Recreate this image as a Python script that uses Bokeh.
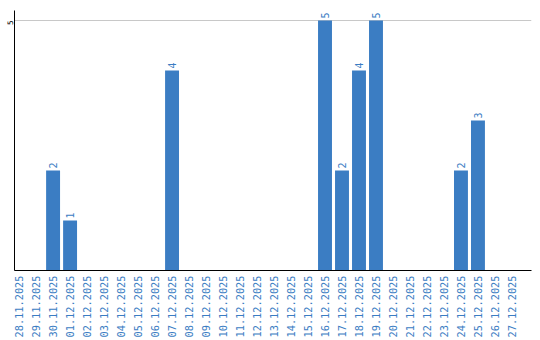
import math
from bokeh.plotting import figure
from bokeh.models import Range1d, FixedTicker, ColumnDataSource
from bokeh.embed import file_html
from bokeh.resources import INLINE
from bokeh.core.properties import value

dates = ["28.11.2025", "29.11.2025", "30.11.2025", "01.12.2025", "02.12.2025",
         "03.12.2025", "04.12.2025", "05.12.2025", "06.12.2025", "07.12.2025",
         "08.12.2025", "09.12.2025", "10.12.2025", "11.12.2025", "12.12.2025",
         "13.12.2025", "14.12.2025", "15.12.2025", "16.12.2025", "17.12.2025",
         "18.12.2025", "19.12.2025", "20.12.2025", "21.12.2025", "22.12.2025",
         "23.12.2025", "24.12.2025", "25.12.2025", "26.12.2025", "27.12.2025"]
counts = [0, 0, 2, 1, 0, 0, 0, 0, 0, 4,
          0, 0, 0, 0, 0, 0, 0, 0, 5, 2,
          4, 5, 0, 0, 0, 0, 2, 3, 0, 0]
y_ticks = [5]

BLUE = "#3b7dc3"
FONT = "DejaVu Sans Mono"

xs = list(range(len(dates)))
src = ColumnDataSource(dict(x=xs, top=counts))
nz = [i for i, c in enumerate(counts) if c > 0]
lab_src = ColumnDataSource(dict(x=[xs[i] for i in nz], y=[counts[i] for i in nz],
                                t=[str(counts[i]) for i in nz]))

p = figure(width=540, height=340, output_backend="svg", toolbar_location=None,
           x_range=Range1d(-0.27, 30.15), y_range=Range1d(0, 5.2),
           min_border_left=0, min_border_right=9, min_border_top=10, min_border_bottom=0)
p.outline_line_color = None
p.background_fill_color = "white"
p.border_fill_color = "white"

p.vbar(x="x", top="top", width=0.82, bottom=0, source=src, fill_color=BLUE, line_color=None)
p.text(x="x", y="y", text="t", source=lab_src, angle=math.pi / 2, text_align="left",
       text_baseline="middle", y_offset=-2, text_font=value(FONT), text_font_size="10px",
       text_color=BLUE)

p.xaxis.ticker = FixedTicker(ticks=xs)
p.xaxis.major_label_overrides = {i: d for i, d in enumerate(dates)}
p.xaxis.major_label_orientation = math.pi / 2
p.xaxis.major_label_text_font = FONT
p.xaxis.major_label_text_font_size = "10.3px"
p.xaxis.major_label_text_color = BLUE
p.xaxis.major_tick_line_color = None
p.xaxis.minor_tick_line_color = None
p.xaxis.major_tick_out = 0
p.xaxis.major_tick_in = 0
p.xaxis.minor_tick_out = 0
p.xaxis.minor_tick_in = 0
p.xaxis.major_label_standoff = 5
p.xaxis.axis_line_color = "black"

p.yaxis.ticker = FixedTicker(ticks=y_ticks)
p.yaxis.major_label_orientation = math.pi / 2
p.yaxis.major_label_text_font = FONT
p.yaxis.major_label_text_font_size = "7.5px"
p.yaxis.major_label_text_color = "black"
p.yaxis.major_tick_line_color = None
p.yaxis.minor_tick_line_color = None
p.yaxis.major_tick_out = 0
p.yaxis.major_tick_in = 0
p.yaxis.minor_tick_out = 0
p.yaxis.minor_tick_in = 0
p.yaxis.major_label_standoff = 5
p.yaxis.axis_line_color = "black"

p.xgrid.grid_line_color = None
p.ygrid.grid_line_color = "#c8c8c8"
p.ygrid.ticker = FixedTicker(ticks=y_ticks)

open("out.html", "w").write(file_html(p, INLINE))
